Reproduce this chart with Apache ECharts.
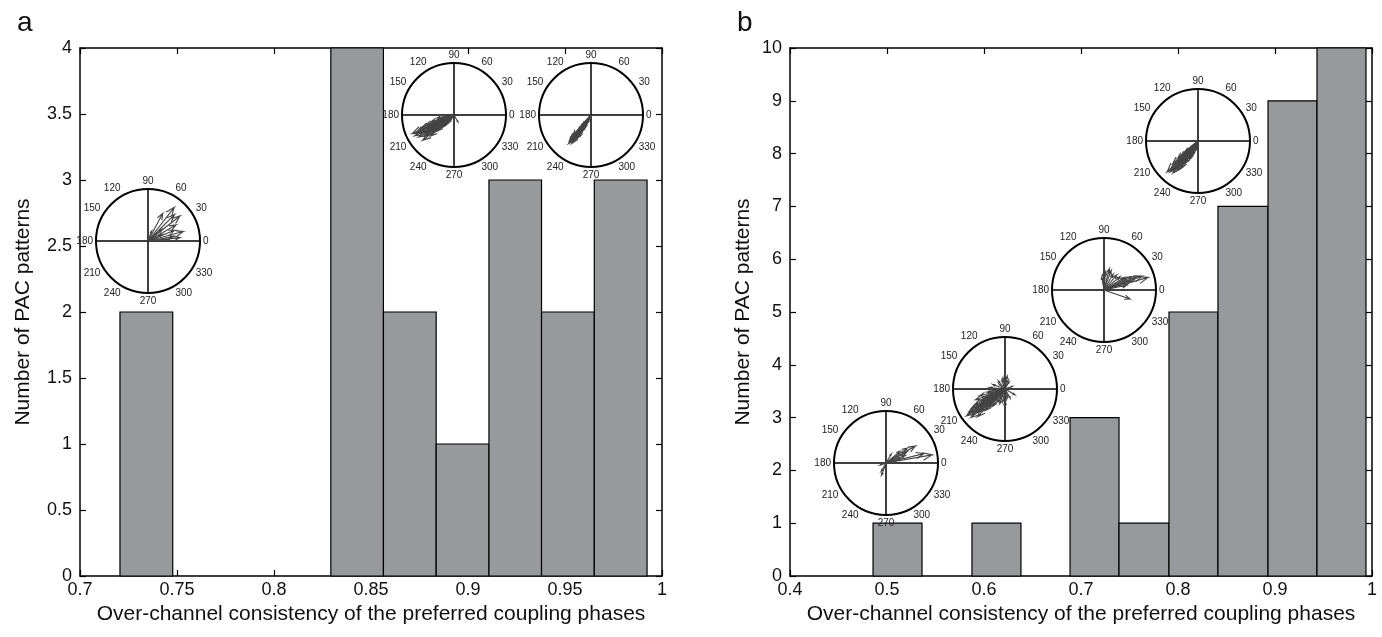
<!DOCTYPE html>
<html>
<head>
<meta charset="utf-8">
<script src="https://cdn.jsdelivr.net/npm/echarts@6/dist/echarts.min.js"></script>
<style>
  html, body { margin: 0; padding: 0; background: #fff; }
  #main { width: 1382px; height: 637px; }
</style>
</head>
<body>
<div id="main"></div>
<script>
// histogram bins (edges) and counts
var binEdgesA = [0.7206, 0.7478, 0.7750, 0.8021, 0.8293, 0.8564, 0.8836, 0.9108, 0.9379, 0.9651, 0.9923];
var countsA = [2, 0, 0, 0, 4, 2, 1, 3, 2, 3];
var binEdgesB = [0.4856, 0.5361, 0.5876, 0.6381, 0.6887, 0.7392, 0.7907, 0.8412, 0.8928, 0.9433, 0.9938];
var countsB = [1, 0, 1, 0, 3, 1, 5, 7, 9, 10];

// compass insets: [angle in degrees, length (1 = circle)]
var compassA1 = [[62, 0.6], [52, 0.82], [45, 0.72], [38, 0.78], [30, 0.62], [22, 0.55], [15, 0.7], [10, 0.5],
  [6, 0.62], [3, 0.4], [25, 0.3], [40, 0.35], [70, 0.2]];
var compassA2 = [[204, 0.88], [208, 0.85], [212, 0.8], [219, 0.77], [206, 0.75], [215, 0.7], [202, 0.68], [210, 0.65],
  [222, 0.6], [200, 0.58], [214, 0.55], [207, 0.5], [218, 0.48], [196, 0.45], [225, 0.42], [203, 0.4], [211, 0.36],
  [190, 0.33], [228, 0.3], [216, 0.28], [198, 0.25], [232, 0.22], [186, 0.2], [300, 0.15], [240, 0.15],
  [205, 0.82], [209, 0.72], [213, 0.62], [201, 0.52], [217, 0.66], [205, 0.6], [220, 0.52], [199, 0.38],
  [209, 0.3], [213, 0.45], [224, 0.35], [194, 0.28], [206, 0.22], [215, 0.18], [230, 0.25]];
var compassA3 = [[232, 0.7], [236, 0.66], [230, 0.62], [234, 0.58], [238, 0.55], [228, 0.52], [240, 0.5], [233, 0.46],
  [236, 0.42], [231, 0.38], [242, 0.35], [237, 0.3], [229, 0.28], [245, 0.25], [234, 0.2], [250, 0.15], [240, 0.22],
  [233, 0.64], [235, 0.6], [231, 0.55], [237, 0.5], [239, 0.45], [232, 0.4], [235, 0.35], [230, 0.32],
  [238, 0.27], [243, 0.3], [227, 0.22], [236, 0.17]];
var compassB1 = [[10, 0.9], [14, 0.75], [30, 0.65], [35, 0.5], [28, 0.45], [22, 0.4], [40, 0.35], [18, 0.3],
  [250, 0.25], [240, 0.18], [200, 0.12], [60, 0.2]];
var compassB2 = [[215, 0.9], [220, 0.85], [212, 0.8], [225, 0.75], [218, 0.7], [208, 0.65], [200, 0.6], [228, 0.55],
  [195, 0.5], [222, 0.62], [205, 0.45], [235, 0.4], [190, 0.35], [240, 0.3], [250, 0.3], [260, 0.25], [280, 0.2],
  [300, 0.2], [330, 0.22], [80, 0.25], [95, 0.2], [110, 0.18], [60, 0.15], [130, 0.2], [160, 0.25], [175, 0.3],
  [20, 0.15], [270, 0.35], [214, 0.84], [217, 0.78], [210, 0.72], [221, 0.68], [213, 0.58], [224, 0.5],
  [206, 0.52], [216, 0.46], [230, 0.45], [203, 0.4], [211, 0.38], [226, 0.32], [198, 0.3], [185, 0.25],
  [245, 0.22], [290, 0.15], [140, 0.15], [70, 0.18], [100, 0.22]];
var compassB3 = [[16, 0.88], [20, 0.78], [22, 0.68], [25, 0.6], [18, 0.55], [28, 0.5], [32, 0.45], [40, 0.4],
  [50, 0.38], [60, 0.35], [70, 0.4], [76, 0.42], [85, 0.35], [92, 0.33], [100, 0.25], [341, 0.53], [12, 0.45]];
var compassB4 = [[225, 0.84], [228, 0.8], [232, 0.78], [230, 0.72], [235, 0.7], [222, 0.65], [238, 0.62], [226, 0.6],
  [233, 0.55], [240, 0.5], [220, 0.5], [236, 0.45], [229, 0.42], [245, 0.4], [224, 0.38], [242, 0.35], [231, 0.3],
  [250, 0.28], [218, 0.3], [255, 0.2], [235, 0.25], [260, 0.15], [240, 0.49], [227, 0.75], [231, 0.68],
  [234, 0.64], [228, 0.57], [237, 0.52], [225, 0.48], [232, 0.44], [239, 0.4], [227, 0.34], [234, 0.33],
  [221, 0.42], [243, 0.3], [230, 0.2], [247, 0.35]];

var xTitle = 'Over-channel consistency of the preferred coupling phases';
var yTitle = 'Number of PAC patterns';

var FONT = 'Liberation Sans, Arial, sans-serif';
var chart = echarts.init(document.getElementById('main'));

function histData(edges, counts) {
  var out = [];
  for (var i = 0; i < counts.length; i++) {
    if (counts[i] > 0) out.push([edges[i], edges[i + 1], counts[i]]);
  }
  return out;
}

function renderBar(params, api) {
  var p0 = api.coord([api.value(0), api.value(2)]);
  var p1 = api.coord([api.value(1), 0]);
  return {
    type: 'rect',
    shape: { x: p0[0], y: p0[1], width: p1[0] - p0[0], height: p1[1] - p0[1] },
    style: { fill: '#98999d', stroke: '#000', lineWidth: 1.2 }
  };
}

function renderArrow(params, api) {
  var r = api.value(0), a = api.value(1);
  var c = api.coord([0, a]);
  var tip = api.coord([r, a]);
  var h1 = api.coord([r * 0.804, a + 5.7]);
  var h2 = api.coord([r * 0.804, a - 5.7]);
  return {
    type: 'polyline',
    shape: { points: [c, tip, h1, tip, h2] },
    style: { stroke: '#444', fill: null, lineWidth: 1.1 }
  };
}

var polarCenters = [[148, 241], [454, 115], [591, 115], [886, 463], [1005, 389], [1104, 290], [1198, 141]];
var compasses = [compassA1, compassA2, compassA3, compassB1, compassB2, compassB3, compassB4];

var polar = [], angleAxis = [], radiusAxis = [], series = [];
polarCenters.forEach(function (c, i) {
  polar.push({ center: c, radius: 52 });
  radiusAxis.push({
    polarIndex: i, min: 0, max: 1,
    axisLine: { show: false }, axisTick: { show: false }, axisLabel: { show: false }, splitLine: { show: false }
  });
  angleAxis.push({
    polarIndex: i, type: 'value', min: 0, max: 360, interval: 30, startAngle: 0, clockwise: false, z: 10,
    axisLine: { lineStyle: { color: '#000', width: 2 } },
    axisTick: { show: false },
    axisLabel: {
      margin: 3, fontSize: 10, color: '#222', fontFamily: FONT,
      formatter: function (v) { return v >= 360 ? '' : String(v); }
    },
    splitLine: { show: true, lineStyle: { color: ['#000', 'rgba(0,0,0,0)', 'rgba(0,0,0,0)'], width: 1.5 } }
  });
  series.push({
    type: 'custom', coordinateSystem: 'polar', polarIndex: i, z: 11,
    renderItem: renderArrow,
    data: compasses[i].map(function (d) { return [d[1], d[0]]; })
  });
});

function xAxes(grid, min, max, interval) {
  var base = {
    gridIndex: grid, type: 'value', min: min, max: max, interval: interval,
    axisLine: { onZero: false, lineStyle: { color: '#000', width: 1.5 } },
    axisTick: { inside: true, length: 6, lineStyle: { color: '#000', width: 1.2 } },
    splitLine: { show: false }
  };
  return [
    Object.assign({}, base, {
      position: 'bottom',
      axisLabel: { fontSize: 18, color: '#111', margin: 5, fontFamily: FONT },
      name: xTitle, nameLocation: 'middle', nameGap: 27,
      nameTextStyle: { fontSize: 21, color: '#111', fontFamily: FONT }
    }),
    Object.assign({}, base, { position: 'top', axisLabel: { show: false } })
  ];
}

function yAxes(grid, min, max, interval, gap) {
  var base = {
    gridIndex: grid, type: 'value', min: min, max: max, interval: interval,
    axisLine: { onZero: false, lineStyle: { color: '#000', width: 1.5 } },
    axisTick: { inside: true, length: 6, lineStyle: { color: '#000', width: 1.2 } },
    splitLine: { show: false }
  };
  return [
    Object.assign({}, base, {
      position: 'left',
      axisLabel: { fontSize: 18, color: '#111', margin: 8, fontFamily: FONT },
      name: yTitle, nameLocation: 'middle', nameGap: gap,
      nameTextStyle: { fontSize: 21, color: '#111', fontFamily: FONT }
    }),
    Object.assign({}, base, { position: 'right', axisLabel: { show: false } })
  ];
}

series.push({
  type: 'custom', xAxisIndex: 0, yAxisIndex: 0, renderItem: renderBar, z: 2,
  encode: { x: [0, 1], y: 2 }, data: histData(binEdgesA, countsA)
});
series.push({
  type: 'custom', xAxisIndex: 2, yAxisIndex: 2, renderItem: renderBar, z: 2,
  encode: { x: [0, 1], y: 2 }, data: histData(binEdgesB, countsB)
});

var option = {
  backgroundColor: '#fff',
  animation: false,
  title: [
    { text: 'a', left: 12, top: 4, textStyle: { fontSize: 28, fontWeight: 'normal', color: '#111', fontFamily: FONT } },
    { text: 'b', left: 732, top: 4, textStyle: { fontSize: 28, fontWeight: 'normal', color: '#111', fontFamily: FONT } }
  ],
  grid: [
    { left: 80, right: 720, top: 48, bottom: 61 },
    { left: 790, right: 10, top: 48, bottom: 61 }
  ],
  xAxis: xAxes(0, 0.7, 1, 0.05).concat(xAxes(1, 0.4, 1, 0.1)),
  yAxis: yAxes(0, 0, 4, 0.5, 46).concat(yAxes(1, 0, 10, 1, 36)),
  polar: polar,
  angleAxis: angleAxis,
  radiusAxis: radiusAxis,
  series: series
};
chart.setOption(option);
window.addEventListener('resize', function () {
  setTimeout(function () { chart.resize(); }, 0);
});
</script>
</body>
</html>
